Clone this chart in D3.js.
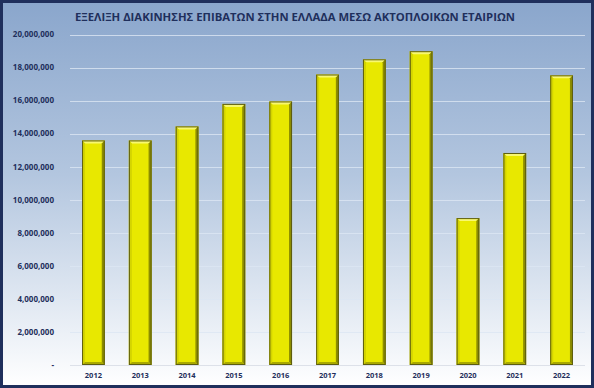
<!DOCTYPE html>
<html>
<head>
<meta charset="utf-8">
<script src="https://d3js.org/d3.v7.min.js"></script>
<style>
    body { margin: 0; background: #fff; }
    svg { display: block; }
</style>
</head>
<body>
<svg id="chart" width="594" height="388"></svg>
<script>
    var years = ["2012", "2013", "2014", "2015", "2016", "2017", "2018", "2019", "2020", "2021", "2022"];
    var passengers = [13590000, 13590000, 14440000, 15800000, 15950000, 17580000, 18500000, 18990000, 8890000, 12830000, 17530000];
    var yTicks = [0, 2000000, 4000000, 6000000, 8000000, 10000000, 12000000, 14000000, 16000000, 18000000, 20000000];
    var title = "ΕΞΕΛΙΞΗ ΔΙΑΚΙΝΗΣΗΣ ΕΠΙΒΑΤΩΝ ΣΤΗΝ ΕΛΛΑΔΑ ΜΕΣΩ ΑΚΤΟΠΛΟΙΚΩΝ ΕΤΑΙΡΙΩΝ";

    var W = 594, H = 388;
    // plot area (note: "top" is reserved on window)
    var plotLeft = 70, plotRight = 585, plotTop = 34.5, plotBottom = 365;
    var font = "'Open Sans', 'DejaVu Sans', sans-serif";

    var svg = d3.select("#chart");

    var defs = svg.append("defs");
    var bg = defs.append("linearGradient")
        .attr("id", "bg")
        .attr("x1", 0).attr("y1", 0).attr("x2", 0).attr("y2", 1);
    bg.append("stop").attr("offset", "0%").attr("stop-color", "#8aa6cc");
    bg.append("stop").attr("offset", "45%").attr("stop-color", "#b3c6df");
    bg.append("stop").attr("offset", "100%").attr("stop-color", "#ffffff");

    // frame
    svg.append("rect")
        .attr("x", 1.5).attr("y", 1.5)
        .attr("width", W - 3).attr("height", H - 3)
        .attr("fill", "url(#bg)")
        .attr("stroke", "#1f2f5c")
        .attr("stroke-width", 3);

    var x = d3.scaleBand()
        .domain(years)
        .range([plotLeft, plotRight])
        .paddingInner(0.515)
        .paddingOuter(0.2575);

    var y = d3.scaleLinear()
        .domain([0, 20000000])
        .range([plotBottom, plotTop]);

    // gridlines
    svg.append("g")
        .selectAll("line")
        .data(yTicks)
        .enter().append("line")
        .attr("x1", plotLeft).attr("x2", plotRight)
        .attr("y1", (d) => Math.round(y(d)) + 0.5)
        .attr("y2", (d) => Math.round(y(d)) + 0.5)
        .attr("stroke", (d) => d == 0 ? "#d6dbe3" : "#dce6f3")
        .attr("stroke-opacity", 0.8)
        .attr("stroke-width", 1.2);

    // y labels
    var fmt = d3.format(",");
    svg.append("g")
        .selectAll("text")
        .data(yTicks)
        .enter().append("text")
        .attr("x", 54)
        .attr("y", (d) => y(d))
        .attr("dy", "0.35em")
        .attr("text-anchor", "end")
        .attr("font-family", font)
        .attr("font-size", "8px")
        .attr("font-weight", "bold")
        .attr("fill", "#1f2f5c")
        .text((d) => d == 0 ? "-" : fmt(d));

    // x labels
    svg.append("g")
        .selectAll("text")
        .data(years)
        .enter().append("text")
        .attr("x", (d) => x(d) + x.bandwidth() / 2)
        .attr("y", 378)
        .attr("text-anchor", "middle")
        .attr("font-family", font)
        .attr("font-size", "7.5px")
        .attr("font-weight", "bold")
        .attr("fill", "#1f2f5c")
        .text((d) => d);

    // bars with bevel
    var bev = 3;
    var bars = svg.append("g")
        .selectAll("g")
        .data(years.map((d, i) => ({year: d, value: passengers[i]})))
        .enter().append("g");

    bars.each(function (d) {
        var g = d3.select(this);
        var x0 = x(d.year), x1 = x0 + x.bandwidth();
        var y0 = y(d.value), y1 = y(0);

        g.append("rect")
            .attr("x", x0).attr("y", y0)
            .attr("width", x1 - x0).attr("height", y1 - y0)
            .attr("fill", "#e8e800");

        // top face
        g.append("polygon")
            .attr("points", [[x0, y0], [x1, y0], [x1 - bev, y0 + bev], [x0 + bev, y0 + bev]].join(" "))
            .attr("fill", "#f8f870");
        // left face
        g.append("polygon")
            .attr("points", [[x0, y0], [x0 + bev, y0 + bev], [x0 + bev, y1 - bev], [x0, y1]].join(" "))
            .attr("fill", "#d4d400");
        // right face
        g.append("polygon")
            .attr("points", [[x1, y0], [x1, y1], [x1 - bev, y1 - bev], [x1 - bev, y0 + bev]].join(" "))
            .attr("fill", "#8c8c00");
        // bottom face
        g.append("polygon")
            .attr("points", [[x0, y1], [x1, y1], [x1 - bev, y1 - bev], [x0 + bev, y1 - bev]].join(" "))
            .attr("fill", "#a8a800");

        g.append("rect")
            .attr("x", x0 + 0.5).attr("y", y0 + 0.5)
            .attr("width", x1 - x0 - 1).attr("height", y1 - y0 - 1)
            .attr("fill", "none")
            .attr("stroke", "#5c5c10")
            .attr("stroke-width", 1);
    });

    // title
    svg.append("text")
        .attr("x", 295)
        .attr("y", 21)
        .attr("text-anchor", "middle")
        .attr("font-family", font)
        .attr("font-size", "10.5px")
        .attr("font-weight", "bold")
        .attr("fill", "#1f2f5c")
        .attr("textLength", 440)
        .attr("lengthAdjust", "spacingAndGlyphs")
        .text(title);
</script>
</body>
</html>
